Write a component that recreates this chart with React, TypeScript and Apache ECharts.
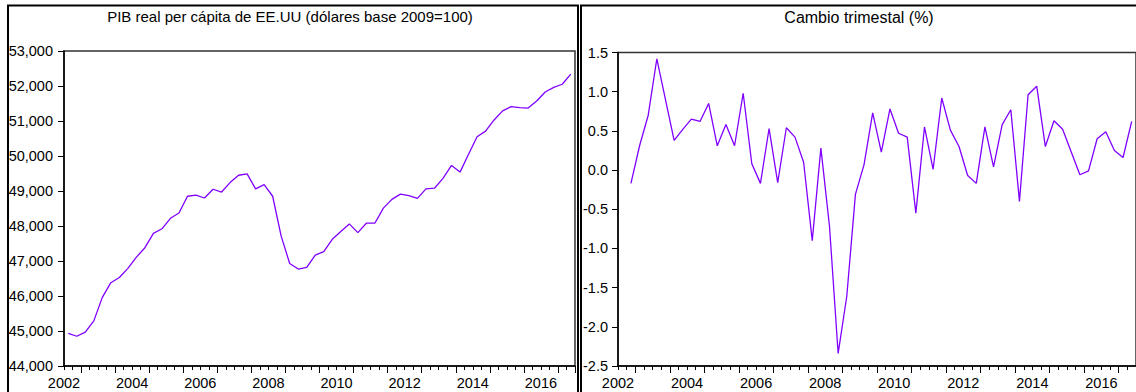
import { useEffect, useRef } from "react";
import * as echarts from "echarts";

// Quarterly categories 2002Q1 .. 2016Q4
const years: number[] = [2002, 2003, 2004, 2005, 2006, 2007, 2008, 2009, 2010, 2011, 2012, 2013, 2014, 2015, 2016];
const quarterNames: string[] = ["Q1", "Q2", "Q3", "Q4"];
const quarters: string[] = years.flatMap((y) => quarterNames.map((q) => `${y}${q}`));

// Real GDP per capita, USD (2009 base)
const gdpPerCapita: number[] = [
  44930, 44850, 44970, 45290, 45960, 46380, 46530, 46790, 47110, 47380,
  47790, 47920, 48220, 48370, 48850, 48880, 48800, 49050, 48970, 49240,
  49450, 49490, 49060, 49180, 48850, 47710, 46930, 46770, 46820, 47170,
  47270, 47620, 47840, 48060, 47810, 48080, 48080, 48510, 48760, 48910,
  48870, 48790, 49060, 49080, 49360, 49730, 49540, 50050, 50550, 50710,
  51030, 51290, 51410, 51380, 51370, 51570, 51830, 51960, 52050, 52340,
];

// Quarter-on-quarter change, %
const quarterlyChange: (number | null)[] = [
  null, -0.17, 0.31, 0.70, 1.42, 0.90, 0.38, 0.52, 0.65, 0.62,
  0.85, 0.31, 0.58, 0.31, 0.98, 0.08, -0.17, 0.53, -0.16, 0.54,
  0.42, 0.10, -0.90, 0.28, -0.72, -2.34, -1.61, -0.31, 0.07, 0.73,
  0.23, 0.78, 0.47, 0.42, -0.55, 0.55, 0.01, 0.92, 0.51, 0.30,
  -0.07, -0.17, 0.55, 0.04, 0.58, 0.77, -0.40, 0.96, 1.07, 0.30,
  0.63, 0.52, 0.23, -0.06, -0.01, 0.40, 0.49, 0.25, 0.16, 0.62,
];

const leftTitle = "PIB real per cápita de EE.UU (dólares base 2009=100)";
const rightTitle = "Cambio trimestal (%)";

const FONT = "'Liberation Sans', Arial, Helvetica, sans-serif";
const LINE = "#8000ff";

// Left grid: x 64..575, y 51..366 ; right grid: x 618..1142 (runs past the edge)
const LEFT_GRID = { left: 64, top: 51, width: 511, height: 315 };
const RIGHT_GRID = { left: 618, top: 52.5, width: 524, height: 313.5 };

function makeXAxes(gridIndex: number, band: number) {
  return [
    {
      type: "category",
      gridIndex,
      data: quarters,
      boundaryGap: true,
      position: "bottom",
      axisLine: { show: true, onZero: false, lineStyle: { color: "#000", width: 1.5 } },
      axisTick: { show: true, interval: 0, length: 4, lineStyle: { color: "#000", width: 1 } },
      axisLabel: {
        interval: (i: number) => i % 8 === 0,
        formatter: (v: string) => v.slice(0, 4),
        color: "#000",
        fontSize: 14.5,
        fontFamily: FONT,
        margin: 9,
        padding: [0, band, 0, 0],
      },
      splitLine: { show: false },
    },
    {
      type: "category",
      gridIndex,
      data: quarters,
      boundaryGap: true,
      position: "bottom",
      axisLine: { show: false, onZero: false },
      axisLabel: { show: false },
      axisTick: {
        show: true,
        interval: (i: number) => i % 4 === 2,
        length: 7,
        lineStyle: { color: "#000", width: 1 },
      },
      splitLine: { show: false },
    },
  ];
}

function makeYAxis(gridIndex: number, min: number, max: number, interval: number, fmt: (v: number) => string, margin: number) {
  return {
    type: "value",
    gridIndex,
    min,
    max,
    interval,
    axisLine: { show: true, onZero: false, lineStyle: { color: "#000", width: 1.5 } },
    axisTick: { show: true, inside: false, length: 6, lineStyle: { color: "#000", width: 1 } },
    axisLabel: { formatter: fmt, color: "#000", fontSize: 14.5, fontFamily: FONT, margin },
    splitLine: { show: false },
  };
}

function titleText(text: string, x: number, size: number) {
  return {
    type: "text",
    x,
    y: 9,
    style: {
      text,
      fill: "#000",
      fontSize: size,
      fontFamily: FONT,
      align: "center",
      verticalAlign: "top",
      textAlign: "center",
      textVerticalAlign: "top",
    },
    silent: true,
  };
}

export default function App() {
  const ref = useRef<HTMLDivElement>(null);

  useEffect(() => {
    if (!ref.current) return;
    const chart = echarts.init(ref.current, null, { renderer: "svg" });
    const gridStyle = { show: true, borderColor: "#333", borderWidth: 1.5, backgroundColor: "#fff" };

    chart.setOption({
      animation: false,
      backgroundColor: "#fff",
      grid: [
        { ...LEFT_GRID, ...gridStyle },
        { ...RIGHT_GRID, ...gridStyle },
      ],
      xAxis: [...makeXAxes(0, LEFT_GRID.width / quarters.length), ...makeXAxes(1, RIGHT_GRID.width / quarters.length)],
      yAxis: [
        makeYAxis(0, 44000, 53000, 1000, (v: number) => v.toLocaleString("en-US"), 11),
        makeYAxis(1, -2.5, 1.5, 0.5, (v: number) => v.toFixed(1), 10),
      ],
      series: [
        {
          type: "line",
          xAxisIndex: 0,
          yAxisIndex: 0,
          data: gdpPerCapita,
          showSymbol: false,
          lineStyle: { color: LINE, width: 1.3 },
          itemStyle: { color: LINE },
        },
        {
          type: "line",
          xAxisIndex: 2,
          yAxisIndex: 1,
          data: quarterlyChange,
          showSymbol: false,
          connectNulls: false,
          lineStyle: { color: LINE, width: 1.3 },
          itemStyle: { color: LINE },
        },
      ],
      graphic: [
        {
          type: "rect",
          shape: { x: 8, y: 5.5, width: 570, height: 500 },
          style: { fill: "none", stroke: "#000", lineWidth: 2 },
          silent: true,
        },
        {
          type: "rect",
          shape: { x: 581, y: 5.5, width: 600, height: 500 },
          style: { fill: "none", stroke: "#000", lineWidth: 2 },
          silent: true,
        },
        titleText(leftTitle, 290, 15),
        titleText(rightTitle, 859, 16),
      ],
    });

    return () => chart.dispose();
  }, []);

  return (
    <div
      ref={ref}
      style={{ position: "fixed", left: 0, top: 0, width: 1136, height: 392, background: "#fff" }}
    />
  );
}
